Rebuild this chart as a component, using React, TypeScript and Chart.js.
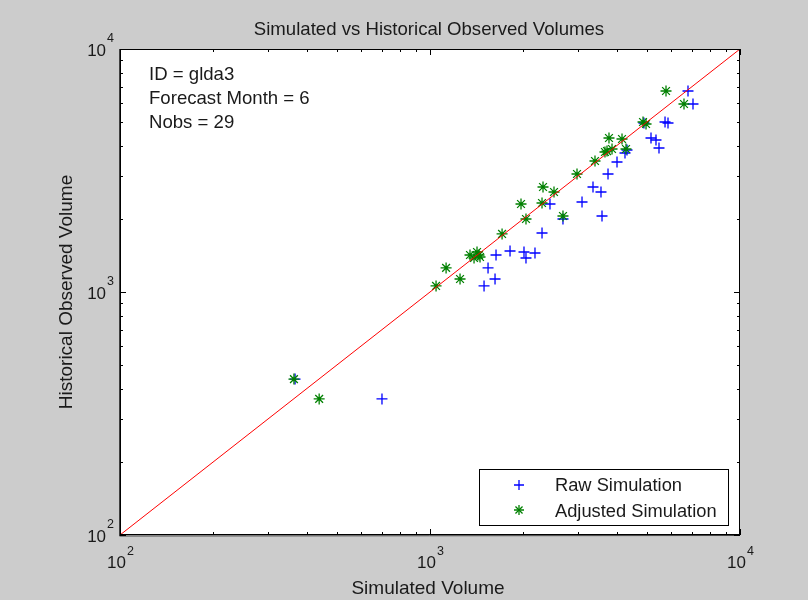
import React, { useEffect, useRef } from "react";
import { Chart, registerables } from "chart.js";

Chart.register(...registerables);

// Raw simulation (blue +)
const rawSim = [367, 700, 1494, 1621, 1539, 1633, 1812, 2010, 2040, 2181, 2298, 2438, 2685, 3093, 3588, 3356, 3561, 3752, 4011, 4320, 4256, 5163, 5358, 5479, 5730, 5858, 6796, 7053, 4899];
const rawObs = [438, 363, 1059, 1131, 1256, 1420, 1475, 1461, 1380, 1447, 1749, 2302, 1997, 2346, 2055, 2705, 2579, 3059, 3428, 3840, 3733, 4302, 4221, 3913, 5007, 4960, 6717, 5938, 4960];

// Adjusted simulation (green *)
const adjSim = [364, 439, 1046, 1127, 1250, 1346, 1418, 1450, 1387, 1708, 1966, 2040, 2298, 2315, 2512, 2685, 2980, 3406, 3724, 3865, 3779, 4163, 4288, 4866, 4976, 5772, 6597, 1439, 3668];
const adjObs = [438, 363, 1059, 1256, 1131, 1420, 1461, 1393, 1380, 1733, 2302, 1997, 2324, 2705, 2579, 2055, 3059, 3460, 3803, 3877, 4302, 4262, 3877, 5007, 4913, 6717, 5938, 1420, 3768];

// 1:1 line
const lineX = [100, 10000];
const lineY = [100, 10000];

const majorTicks = [100, 1000, 10000];
const majorExp = ["2", "3", "4"];
const minorTicks = [200, 300, 400, 500, 600, 700, 800, 900, 2000, 3000, 4000, 5000, 6000, 7000, 8000, 9000];

const titleText = "Simulated vs Historical Observed Volumes";
const xTitle = "Simulated Volume";
const yTitle = "Historical Observed Volume";
const notes = ["ID = glda3", "Forecast Month = 6", "Nobs = 29"];
const legendLabels = ["Raw Simulation", "Adjusted Simulation"];

const F = "'Liberation Sans', Arial, sans-serif";
const TXT = "#1a1a1a";

function drawPlus(ctx: CanvasRenderingContext2D, x: number, y: number, r: number) {
  ctx.beginPath();
  ctx.moveTo(x - r, y);
  ctx.lineTo(x + r, y);
  ctx.moveTo(x, y - r);
  ctx.lineTo(x, y + r);
  ctx.stroke();
}
function drawStar(ctx: CanvasRenderingContext2D, x: number, y: number, r: number) {
  drawPlus(ctx, x, y, r);
  const d = r * 0.7071;
  ctx.beginPath();
  ctx.moveTo(x - d, y - d);
  ctx.lineTo(x + d, y + d);
  ctx.moveTo(x - d, y + d);
  ctx.lineTo(x + d, y - d);
  ctx.stroke();
}

const matlabPlugin = {
  id: "matlabFrame",
  beforeDraw(chart: any) {
    const { ctx, chartArea: a } = chart;
    ctx.save();
    ctx.fillStyle = "#ffffff";
    ctx.fillRect(a.left, a.top, a.right - a.left, a.bottom - a.top);
    ctx.restore();
  },
  afterDraw(chart: any) {
    const { ctx, chartArea: a } = chart;
    const xs = chart.scales.x;
    const ys = chart.scales.y;
    ctx.save();
    // frame
    ctx.strokeStyle = "#000000";
    ctx.lineWidth = 1;
    ctx.strokeRect(a.left + 0.5, a.top + 0.5, a.right - a.left - 1, a.bottom - a.top - 1);
    ctx.strokeStyle = "#404040";
    ctx.beginPath();
    ctx.moveTo(a.left - 0.5, a.top);
    ctx.lineTo(a.left - 0.5, a.bottom + 1);
    ctx.lineTo(a.right, a.bottom + 0.5);
    ctx.stroke();
    ctx.strokeStyle = "#000000";
    // ticks
    const tick = (v: number, len: number) => {
      const px = Math.round(xs.getPixelForValue(v)) + 0.5;
      const py = Math.round(ys.getPixelForValue(v)) + 0.5;
      ctx.beginPath();
      ctx.moveTo(px, a.bottom);
      ctx.lineTo(px, a.bottom - len);
      ctx.moveTo(px, a.top);
      ctx.lineTo(px, a.top + len);
      ctx.moveTo(a.left, py);
      ctx.lineTo(a.left + len, py);
      ctx.moveTo(a.right, py);
      ctx.lineTo(a.right - len, py);
      ctx.stroke();
    };
    majorTicks.forEach((v) => tick(v, 6));
    minorTicks.forEach((v) => tick(v, 3));

    // tick labels
    ctx.fillStyle = TXT;
    ctx.textBaseline = "alphabetic";
    ctx.textAlign = "left";
    const baseFont = `17px ${F}`;
    const expFont = `12.5px ${F}`;
    majorTicks.forEach((v, i) => {
      ctx.font = baseFont;
      const w1 = ctx.measureText("10").width;
      ctx.font = expFont;
      const w2 = ctx.measureText(majorExp[i]).width;
      // x axis
      const px = xs.getPixelForValue(v);
      const start = px - (w1 + w2) / 2;
      ctx.font = baseFont;
      ctx.fillText("10", start, a.bottom + 33);
      ctx.font = expFont;
      ctx.fillText(majorExp[i], start + w1 + 1, a.bottom + 20);
      // y axis
      const py = ys.getPixelForValue(v);
      const right = a.left - 6;
      ctx.font = baseFont;
      ctx.fillText("10", right - w2 - w1 - 1, py + 7);
      ctx.font = expFont;
      ctx.fillText(majorExp[i], right - w2, py - 7);
    });

    // title
    ctx.font = `18.6px ${F}`;
    ctx.textAlign = "center";
    ctx.fillText(titleText, (a.left + a.right) / 2 - 1, 35);
    // x title
    ctx.font = `19px ${F}`;
    ctx.fillText(xTitle, (a.left + a.right) / 2 - 2, 594);
    // y title
    ctx.save();
    ctx.translate(72, (a.top + a.bottom) / 2);
    ctx.rotate(-Math.PI / 2);
    ctx.fillText(yTitle, 0, 0);
    ctx.restore();

    // annotations
    ctx.font = `18.6px ${F}`;
    ctx.textAlign = "left";
    notes.forEach((t, i) => ctx.fillText(t, 149, 80 + i * 24));

    // legend
    const lx = 479, ly = 469, lw = 249, lh = 56;
    ctx.fillStyle = "#ffffff";
    ctx.fillRect(lx, ly, lw, lh);
    ctx.strokeStyle = "#000000";
    ctx.lineWidth = 1;
    ctx.strokeRect(lx + 0.5, ly + 0.5, lw, lh);
    ctx.lineWidth = 1.3;
    ctx.strokeStyle = "#0000ff";
    drawPlus(ctx, 519, 485, 5);
    ctx.strokeStyle = "#008000";
    drawStar(ctx, 519, 510, 5);
    ctx.font = `18.3px ${F}`;
    ctx.fillStyle = TXT;
    ctx.fillText(legendLabels[0], 555, 491);
    ctx.fillText(legendLabels[1], 555, 517);
    ctx.restore();
  },
};

export default function App() {
  const ref = useRef<HTMLCanvasElement | null>(null);
  useEffect(() => {
    if (!ref.current) return;
    const chart = new Chart(ref.current, {
      type: "scatter",
      data: {
        datasets: [
          {
            label: "1:1",
            data: lineX.map((x, i) => ({ x, y: lineY[i] })),
            showLine: true,
            borderColor: "#ff0000",
            borderWidth: 1,
            pointRadius: 0,
            fill: false,
          },
          {
            label: legendLabels[1],
            data: adjSim.map((x, i) => ({ x, y: adjObs[i] })),
            pointStyle: "star",
            pointRadius: 5.5,
            borderColor: "#008000",
            backgroundColor: "#008000",
            borderWidth: 1.3,
          },
          {
            label: legendLabels[0],
            data: rawSim.map((x, i) => ({ x, y: rawObs[i] })),
            pointStyle: "cross",
            pointRadius: 5.5,
            borderColor: "#0000ff",
            backgroundColor: "#0000ff",
            borderWidth: 1.3,
          },
        ],
      },
      options: {
        animation: false,
        responsive: false,
        devicePixelRatio: 1,
        layout: { padding: { left: 120, right: 68, top: 49, bottom: 65 } },
        plugins: { legend: { display: false }, tooltip: { enabled: false }, title: { display: false } },
        scales: {
          x: { type: "logarithmic", min: 100, max: 10000, display: false },
          y: { type: "logarithmic", min: 100, max: 10000, display: false },
        },
      },
      plugins: [matlabPlugin],
    });
    return () => chart.destroy();
  }, []);
  return (
    <div style={{ position: "fixed", left: 0, top: 0, width: 808, height: 600, background: "#cccccc" }}>
      <canvas ref={ref} width={808} height={600} style={{ display: "block" }} />
    </div>
  );
}
